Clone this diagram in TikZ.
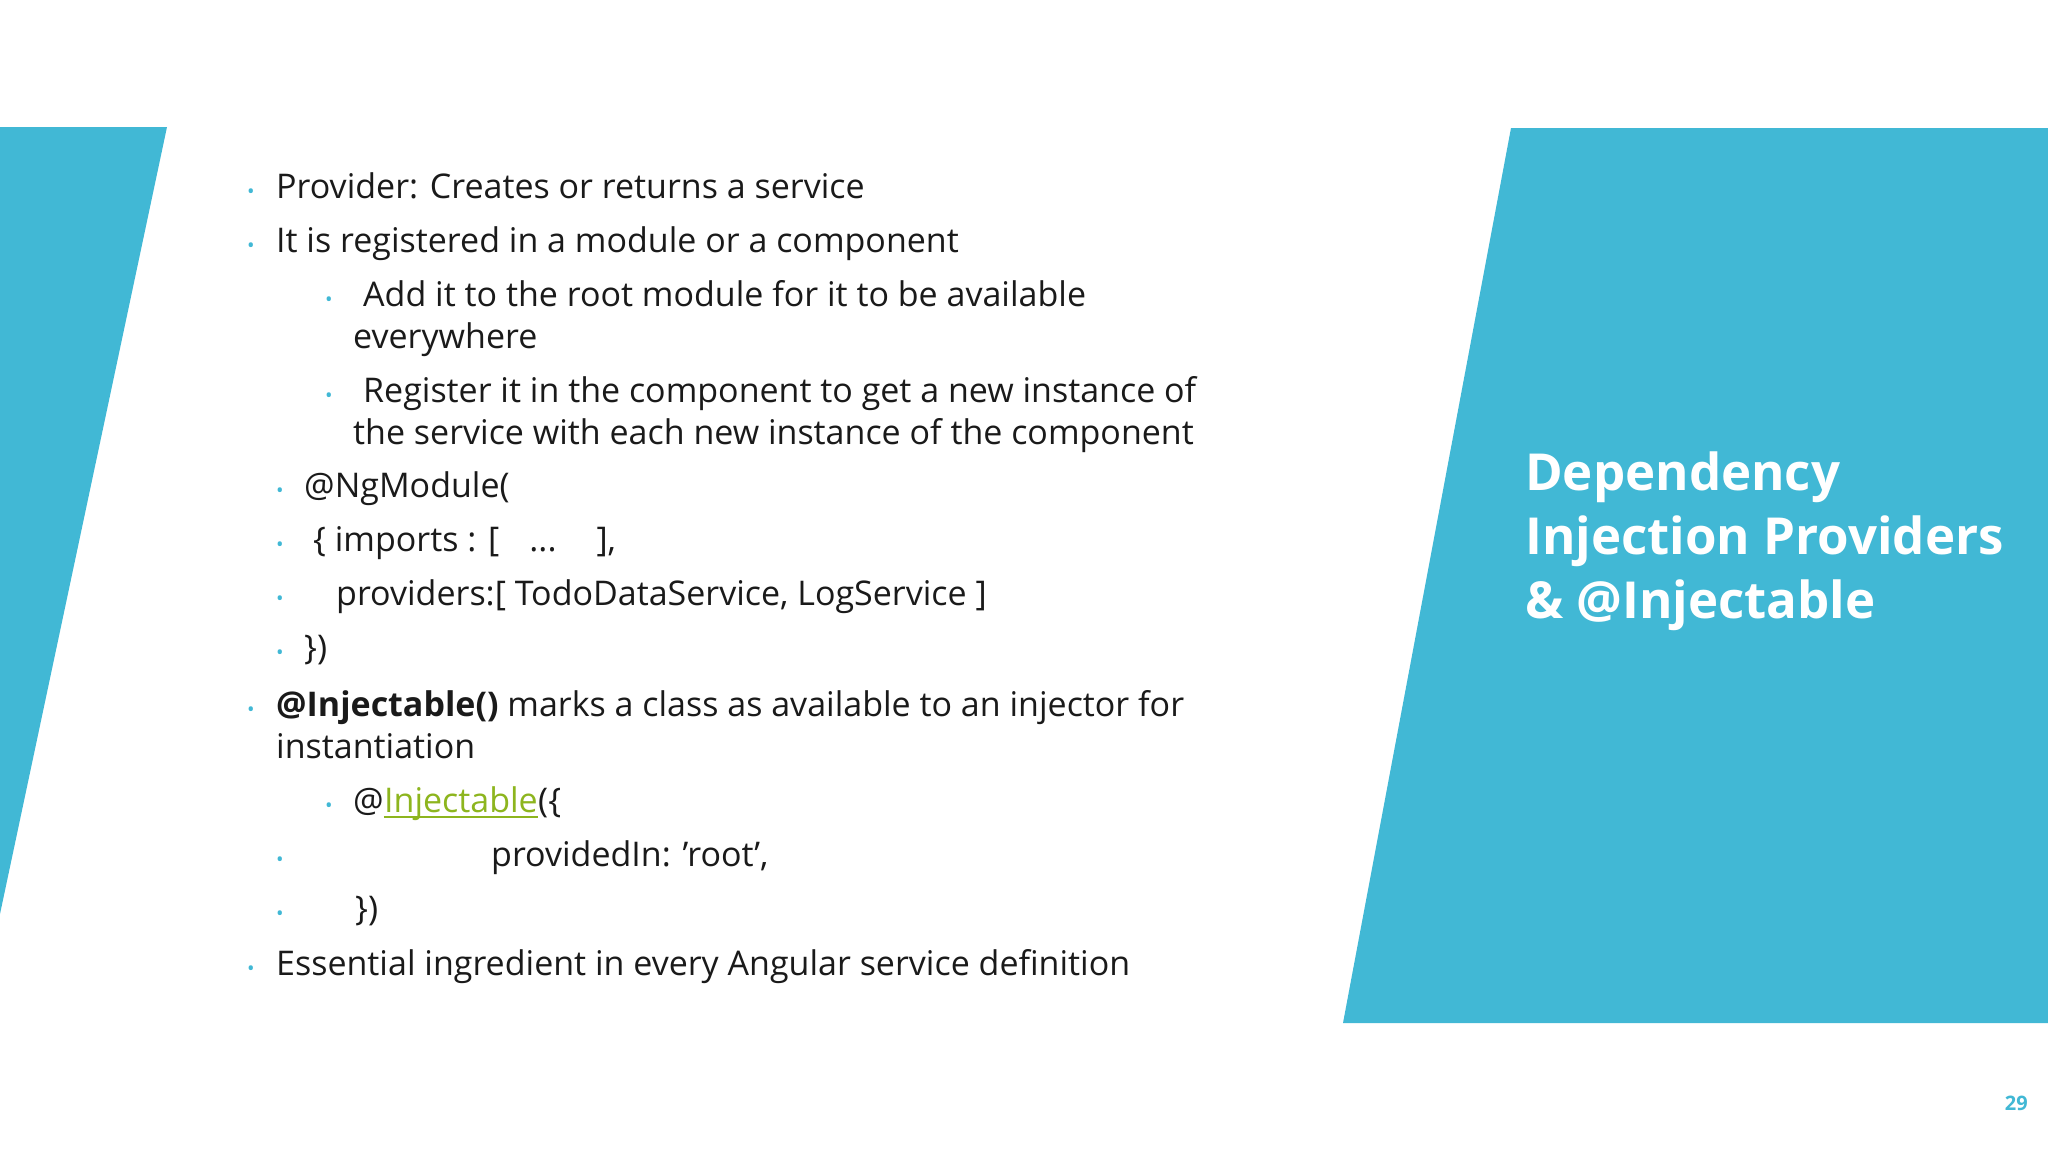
\documentclass[tikz,border=0pt]{standalone}
\usepackage{fontspec}
\setmainfont{Open Sans}
\definecolor{teal}{HTML}{41B8D5}
\definecolor{lnk}{HTML}{8DB51E}
\definecolor{txt}{HTML}{1A1A1A}
\begin{document}
\begin{tikzpicture}[x=1pt,y=-1pt,
  body/.style={anchor=base west,inner sep=0pt,font=\fontsize{34}{40}\selectfont,text=txt},
  bul/.style={anchor=base,inner sep=0pt,font=\fontsize{20}{20}\selectfont,text=teal},
  ttl/.style={anchor=base west,inner sep=0pt,font=\fontsize{51}{64}\selectfont\bfseries,text=white}]
\useasboundingbox (0,0) rectangle (2048,1152);
\fill[white] (0,0) rectangle (2048,1152);
\fill[teal] (0,127) -- (167,127) -- (0,914) -- cycle;
\fill[teal] (1511,128) -- (2048,128) -- (2048,1023) -- (1343,1023) -- cycle;
\node[ttl] (t1) at (1525,490) {Dependency};
\node[ttl] (t2) at (1525,554) {Injection Providers};
\node[ttl] (t3) at (1525,618) {\& @Injectable};
\node[anchor=base east,inner sep=0pt,font=\fontsize{20}{20}\selectfont\bfseries,text=teal] (pg) at (2028,1110) {29};
\foreach \y/\t [count=\i] in {198/{Provider: Creates or returns a service},252/{It is registered in a module or a component},975/{Essential ingredient in every Angular service definition}}{
  \node[bul] (b1\i) at (251,\y) {•};
  \node[body] (l1\i) at (276,\y) {\t};
}
\node[bul] (bi) at (251,716) {•};
\node[body] (li) at (276,716) {\textbf{@Injectable()} marks a class as available to an injector for};
\node[body] (li2) at (276,758) {instantiation};
\node[bul] (b21) at (329,306) {•};
\node[body] (l21) at (363,306) {Add it to the root module for it to be available};
\node[body] (l21b) at (353,348) {everywhere};
\node[bul] (b22) at (329,402) {•};
\node[body] (l22) at (363,402) {Register it in the component to get a new instance of};
\node[body] (l22b) at (353,444) {the service with each new instance of the component};
\node[bul] (c1) at (280,497) {•}; \node[body] (cl1) at (304,497) {@NgModule(};
\node[bul] (c2) at (280,551) {•}; \node[body] (cl2) at (313,551) {\{ imports : [\hspace{30pt}...\hspace{40pt}],};
\node[bul] (c3) at (280,605) {•}; \node[body] (cl3) at (336,605) {providers:[ TodoDataService, LogService ]};
\node[bul] (c4) at (280,659) {•}; \node[body] (cl4) at (304,659) {\})};
\node[bul] (c5) at (329,812) {•};
\node[body] (cl5a) at (353,812) {@};
\node[body,text=lnk] (cl5b) at (cl5a.base east) {Injectable};
\node[body] (cl5c) at (cl5b.base east) {(\{};
\draw[lnk,line width=2pt] ([yshift=-5pt]cl5b.base west) -- ([yshift=-5pt]cl5b.base east);
\node[bul] (c6) at (280,866) {•}; \node[body] (cl6) at (491,866) {providedIn: 'root',};
\node[bul] (c7) at (280,920) {•}; \node[body] (cl7) at (355,920) {\})};
\end{tikzpicture}
\end{document}
